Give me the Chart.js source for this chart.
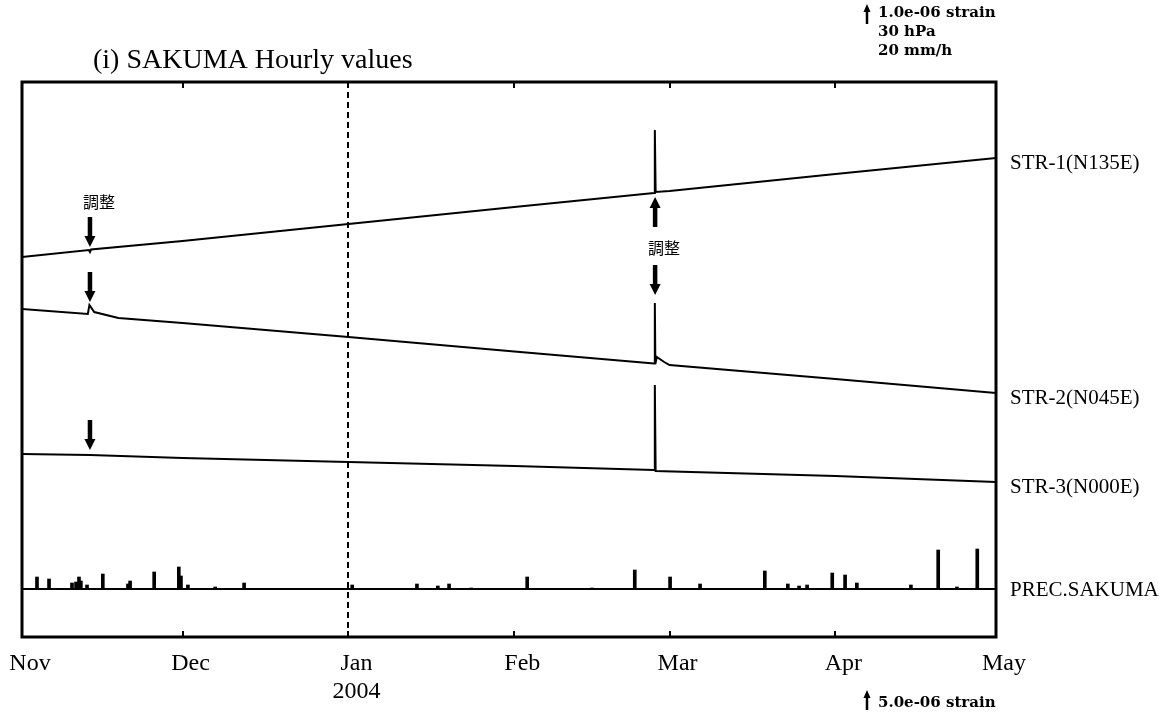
<!DOCTYPE html>
<html lang="ja">
<head>
<meta charset="utf-8">
<title>SAKUMA Hourly values</title>
<script src="https://cdn.jsdelivr.net/npm/chart.js@4.4.1/dist/chart.umd.min.js"></script>
<style>
  html, body { margin: 0; padding: 0; background: #fff; }
  #wrap { position: relative; width: 1173px; height: 713px; }
</style>
</head>
<body>
<div id="wrap"><canvas id="strainChart" width="1173" height="713"></canvas></div>
<script>
// ==================== SAKUMA hourly strain / precipitation, Nov 2003 - Apr 2004 ====================

// x = days counted from 2003-11-01 00:00
const monthDays = [0, 30, 61, 92, 121, 152, 182];
const monthLabels = ['Nov', 'Dec', ['Jan', '2004'], 'Feb', 'Mar', 'Apr', 'May'];

// strain channels, in stacked offset units (each trace shifted for display)
const str1Days = [0, 12.5, 12.7, 12.9, 30, 61, 92, 118.1, 118.25, 118.4, 121, 152, 182];
const str1Vals = [380, 387, 385, 387.5, 396, 413, 430, 444, 507, 445, 446, 463, 479];

const str2Days = [0, 12.3, 12.6, 13.5, 18, 30, 61, 92, 118.1, 118.25, 118.35, 118.6, 120, 121, 152, 182];
const str2Vals = [328, 323, 332, 325, 319, 314, 300, 285.5, 273.5, 334, 273, 280, 275, 272, 258, 244];

const str3Days = [0, 12.7, 30, 61, 92, 118.1, 118.25, 118.4, 152, 182];
const str3Vals = [183, 182, 179, 175, 171, 167, 252, 166, 161, 155];

// hourly precipitation peaks (mm/h)
const precDays = [2.8, 5.05, 9.34, 10.1, 10.65, 11.0, 12.15, 15.1, 19.8, 20.2, 24.7, 29.3, 29.7, 31.0, 36.1, 41.5, 61.7,
  73.8, 77.7, 79.8, 83.9, 94.4, 106.5, 114.5, 121.1, 126.7, 138.8, 143.1, 145.2, 146.7, 151.4, 153.8, 156.0, 166.1, 171.2, 174.7, 178.5];
const precVals = [12, 10, 6, 7, 12, 8, 4, 15, 5, 8, 17, 22, 13, 4, 2, 6, 4,
  5, 3, 5, 1, 12, 1, 19, 12, 5, 18, 5, 3, 4, 16, 14, 6, 4, 39, 2, 40];

// instrument adjustments (調整): day, arrow tip level, direction (1 = down, -1 = up)
const adjArrowDays = [12.7, 12.7, 12.7, 118.3, 118.3];
const adjArrowTips = [390, 335, 187, 440, 342];
const adjArrowDirs = [1, 1, 1, -1, 1];
const adjLabelDays = [12.7, 118.3];
const adjLabelLevels = [435, 389];

const channelNames = ['STR-1(N135E)', 'STR-2(N045E)', 'STR-3(N000E)', 'PREC.SAKUMA'];

const serif = '"Liberation Serif", "Times New Roman", serif';
const toPts = (xs, ys) => xs.map((x, i) => ({ x, y: ys[i] }));

function drawArrow(ctx, x, tipY, dir, len, shaft, headW, headH) {
  const baseY = tipY - dir * len;
  const neckY = tipY - dir * headH;
  ctx.fillRect(x - shaft / 2, Math.min(baseY, neckY), shaft, Math.abs(neckY - baseY));
  ctx.beginPath();
  ctx.moveTo(x - headW / 2, neckY);
  ctx.lineTo(x + headW / 2, neckY);
  ctx.lineTo(x, tipY);
  ctx.closePath();
  ctx.fill();
}

// frame, inner ticks, year divider, channel names, adjustment marks, scale notes
const notesPlugin = {
  id: 'notes',
  afterDraw(chart) {
    const { ctx, chartArea: a, scales } = chart;
    const xs = scales.x, ys = scales.y, yp = scales.yPrec;
    ctx.save();
    ctx.fillStyle = '#000';
    ctx.strokeStyle = '#000';

    // frame
    ctx.lineWidth = 3;
    ctx.strokeRect(a.left, a.top, a.right - a.left, a.bottom - a.top);

    // inward month ticks
    ctx.lineWidth = 2;
    monthDays.slice(1, -1).forEach(d => {
      const px = Math.round(xs.getPixelForValue(d));
      ctx.beginPath();
      ctx.moveTo(px, a.top); ctx.lineTo(px, a.top + 6);
      ctx.moveTo(px, a.bottom); ctx.lineTo(px, a.bottom - 6);
      ctx.stroke();
    });

    // year boundary
    const jx = Math.round(xs.getPixelForValue(monthDays[2]));
    ctx.setLineDash([6, 4]);
    ctx.lineWidth = 2;
    ctx.beginPath();
    ctx.moveTo(jx, a.top); ctx.lineTo(jx, a.bottom);
    ctx.stroke();
    ctx.setLineDash([]);

    // channel names at the right end of each trace
    ctx.font = '21px ' + serif;
    ctx.textBaseline = 'middle';
    ctx.textAlign = 'left';
    const ends = [str1Vals, str2Vals, str3Vals].map(v => ys.getPixelForValue(v[v.length - 1]));
    ends.push(yp.getPixelForValue(0) - 4);
    channelNames.forEach((n, i) => ctx.fillText(n, a.right + 14, ends[i] + 5));

    // adjustment arrows and labels
    adjArrowDays.forEach((d, i) => {
      drawArrow(ctx, xs.getPixelForValue(d), ys.getPixelForValue(adjArrowTips[i]), adjArrowDirs[i], 30, 4.5, 11, 11);
    });
    ctx.font = '16px "Noto Sans CJK JP", sans-serif';
    ctx.textAlign = 'center';
    adjLabelDays.forEach((d, i) => {
      ctx.fillText('調整', xs.getPixelForValue(d) + 9, ys.getPixelForValue(adjLabelLevels[i]));
    });

    // title
    ctx.font = '28px ' + serif;
    ctx.textAlign = 'left';
    ctx.textBaseline = 'alphabetic';
    ctx.fillText('(i) SAKUMA Hourly values', 93, 68);

    // scale notes: arrow length = 20 mm/h on the precipitation axis
    const unit = yp.getPixelForValue(0) - yp.getPixelForValue(20);
    drawArrow(ctx, 867, 4, -1, unit, 2.5, 7, 8);
    ctx.font = 'bold 15px "DejaVu Serif", serif';
    ctx.fillText('1.0e-06 strain', 878, 17);
    ctx.fillText('30 hPa', 878, 36);
    ctx.fillText('20 mm/h', 878, 55);

    drawArrow(ctx, 867, 690, -1, unit, 2.5, 7, 8);
    ctx.fillText('5.0e-06 strain', 878, 707);
    ctx.restore();
  }
};

const lineStyle = { type: 'line', borderColor: '#000', borderWidth: 2, pointRadius: 0, tension: 0, fill: false, yAxisID: 'y' };

new Chart(document.getElementById('strainChart'), {
  type: 'line',
  data: {
    datasets: [
      { ...lineStyle, label: channelNames[0], data: toPts(str1Days, str1Vals) },
      { ...lineStyle, label: channelNames[1], data: toPts(str2Days, str2Vals) },
      { ...lineStyle, label: channelNames[2], data: toPts(str3Days, str3Vals) },
      { ...lineStyle, label: 'PREC base', yAxisID: 'yPrec', data: [{ x: monthDays[0], y: 0 }, { x: monthDays[6], y: 0 }] },
      { type: 'bar', label: channelNames[3], yAxisID: 'yPrec', data: toPts(precDays, precVals), backgroundColor: '#000', barThickness: 3 }
    ]
  },
  options: {
    responsive: false,
    animation: false,
    layout: { padding: { left: 22, right: 177, top: 82, bottom: 0 } },
    plugins: { legend: { display: false }, tooltip: { enabled: false } },
    scales: {
      x: {
        type: 'linear', min: 0, max: 182, offset: false,
        grid: { display: false, drawTicks: false, offset: false },
        border: { display: false },
        afterBuildTicks: s => { s.ticks = monthDays.map(v => ({ value: v })); },
        afterFit: s => { s.height = 76; s.paddingLeft = 0; s.paddingRight = 0; },
        ticks: {
          font: { family: serif, size: 24 }, color: '#000', padding: 12, labelOffset: 8,
          maxRotation: 0, autoSkip: false,
          callback: (v, i) => monthLabels[i]
        }
      },
      y: { display: false, min: 0, max: 555 },
      yPrec: { display: false, min: -48, max: 507 }
    }
  },
  plugins: [notesPlugin]
});
</script>
</body>
</html>
